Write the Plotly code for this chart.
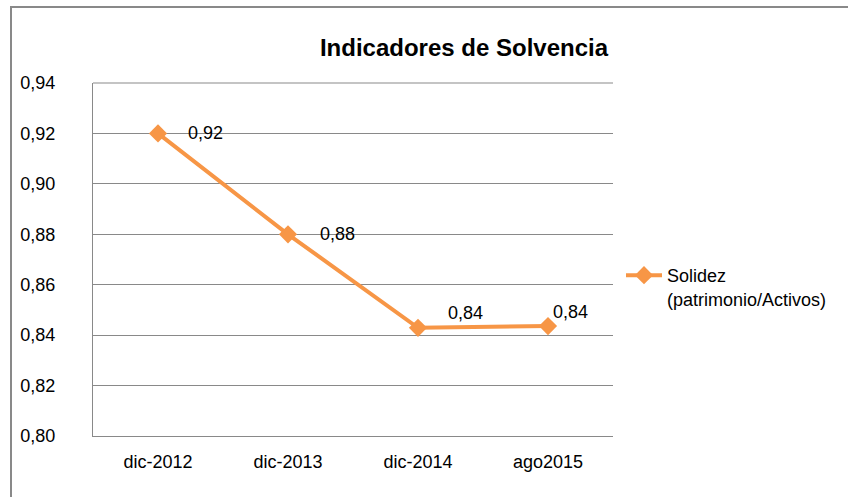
import plotly.graph_objects as go

categories = ["dic-2012", "dic-2013", "dic-2014", "ago2015"]
solidez = [0.920, 0.880, 0.8429, 0.8436]
series_name = "Solidez<br>(patrimonio/Activos)"
y_ticks = [0.80, 0.82, 0.84, 0.86, 0.88, 0.90, 0.92, 0.94]

label_shift_x = [47, 49, 47, 22]
label_shift_y = [0, 0, 15, 14]

ORANGE = "#F79646"
GRID = "#898989"
FONT = "Liberation Sans, Arial, sans-serif"

fig = go.Figure()
fig.add_trace(go.Scatter(
    x=categories, y=solidez, name=series_name, mode="lines+markers",
    line=dict(color=ORANGE, width=4),
    marker=dict(symbol="diamond", size=14, color=ORANGE),
))

for i, (c, v) in enumerate(zip(categories, solidez)):
    fig.add_annotation(
        x=c, y=v, xref="x", yref="y", text=f"{v:.2f}".replace(".", ","),
        showarrow=False, xshift=label_shift_x[i], yshift=label_shift_y[i],
        font=dict(family=FONT, size=18, color="#000000"),
    )

L, R, T, B = 93, 235, 83, 61
W, H = 848, 497
pw, ph = W - L - R, H - T - B
bx = (11 - L) / pw
by = (H - B - 7) / ph
fig.add_shape(type="rect", xref="paper", yref="paper", x0=bx, x1=(W + 20 - L) / pw,
              y0=-(B + 20) / ph, y1=by, line=dict(color=GRID, width=2),
              fillcolor="rgba(0,0,0,0)", layer="below")

fig.update_layout(
    width=W, height=H,
    margin=dict(l=L, r=R, t=T, b=B),
    paper_bgcolor="white", plot_bgcolor="white",
    separators=",.",
    font=dict(family=FONT, size=18, color="#000000"),
    title=dict(text="<b>Indicadores de Solvencia</b>", x=464 / W, xanchor="center",
               y=1 - 48 / H, yanchor="middle",
               font=dict(family=FONT, size=24, color="#000000")),
    showlegend=True,
    legend=dict(x=1.0 + 8 / pw, xanchor="left", y=(H - B - 257) / ph, yanchor="top",
                valign="top",
                font=dict(family=FONT, size=18, color="#000000"),
                bgcolor="rgba(0,0,0,0)", itemwidth=36),
    xaxis=dict(type="category", range=[-0.5, 3.5], showgrid=False,
               showline=True, linecolor=GRID, linewidth=1, ticks="",
               ticklabelstandoff=9, tickfont=dict(size=18)),
    yaxis=dict(range=[0.80, 0.94], tickvals=y_ticks, tickformat=".2f",
               showgrid=True, gridcolor=GRID, gridwidth=1,
               showline=True, linecolor=GRID, linewidth=1, ticks="",
               zeroline=False, ticklabelstandoff=33, tickfont=dict(size=18)),
)
fig.add_shape(type="line", xref="paper", yref="paper", x0=0, x1=1, y0=1, y1=1,
              line=dict(color=GRID, width=1))

fig.write_html("out.html", config={"displayModeBar": False},
               post_script="document.body.style.margin='0';document.body.style.overflow='hidden';")
